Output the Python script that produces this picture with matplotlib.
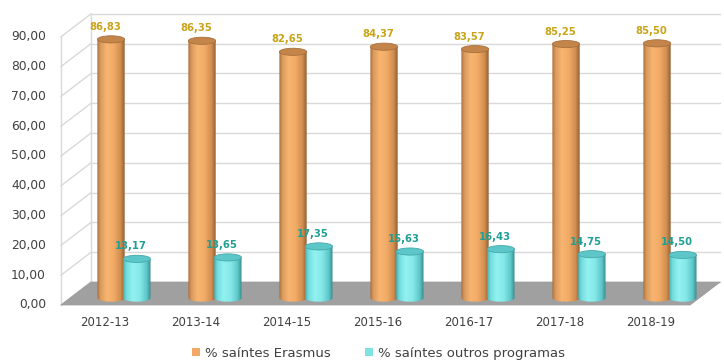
import numpy as np
import matplotlib
matplotlib.use("Agg")
import matplotlib.pyplot as plt
from matplotlib.patches import Ellipse, Polygon, PathPatch, Patch
from matplotlib.path import Path
from matplotlib.colors import LinearSegmentedColormap

plt.rcParams['font.family'] = ['DejaVu Sans']

# Datos
anos = ['2012-13', '2013-14', '2014-15', '2015-16', '2016-17', '2017-18', '2018-19']
erasmus = [86.83, 86.35, 82.65, 84.37, 83.57, 85.25, 85.50]
outros = [13.17, 13.65, 17.35, 15.63, 16.43, 14.75, 14.50]
yticks = [0, 10, 20, 30, 40, 50, 60, 70, 80, 90]

# perspectiva: desprazamento do fondo respecto da fronte
dx, dy = 0.33, 7.7
x_left = -0.484
x_right = 6.43
base = 0.3 * dy  # os cilindros pousan a 30% da profundidade
w = 0.30
cap_h = 2.4

cmap_or = LinearSegmentedColormap.from_list('or', [
    (0.0, '#a86d3c'), (0.12, '#d99a5c'), (0.35, '#f7b571'),
    (0.6, '#f2ab66'), (0.85, '#cf8d50'), (1.0, '#8e5c30')])
cmap_cy = LinearSegmentedColormap.from_list('cy', [
    (0.0, '#4aaeb0'), (0.12, '#72dcdd'), (0.35, '#93f2f2'),
    (0.6, '#86e8e9'), (0.85, '#5ec7c9'), (1.0, '#37898c')])


def fmt(v):
    return f"{v:.2f}".replace('.', ',')


def cilindro(ax, xc, valor, cmap, cor_tapa, cor_borde):
    x0, x1 = xc - w / 2, xc + w / 2
    top = base + valor
    t = np.linspace(np.pi, 2 * np.pi, 30)
    fondo = [(xc + w / 2 * np.cos(a), base + cap_h / 2 * np.sin(a)) for a in t]
    verts = [(x0, top)] + fondo + [(x1, top), (x0, top)]
    clip = PathPatch(Path(verts), transform=ax.transData, facecolor='none', edgecolor='none')
    ax.add_patch(clip)
    grad = np.linspace(0, 1, 200).reshape(1, -1)
    im = ax.imshow(grad, cmap=cmap, extent=[x0, x1, base - cap_h / 2, top],
                   aspect='auto', zorder=3, interpolation='bilinear')
    im.set_clip_path(clip)
    ax.add_patch(Ellipse((xc, top), w, cap_h, facecolor=cor_tapa,
                         edgecolor=cor_borde, lw=0.6, zorder=4))
    return top


fig = plt.figure(figsize=(7.24, 3.62), dpi=100)
ax = fig.add_axes([0, 0, 1, 1])
ax.set_xlim(-1.154, 6.802)
ax.set_ylim(-19.13, 102.35)
ax.axis('off')

grid_c = '#d9d9d9'
# parede do fondo e parede lateral
for t in yticks:
    ax.plot([x_left + dx, x_right + dx], [t + dy, t + dy], color=grid_c, lw=1.0, zorder=1)
    ax.plot([x_left, x_left + dx], [t, t + dy], color=grid_c, lw=1.0, zorder=1)
ax.plot([x_left, x_left], [0, 90], color=grid_c, lw=1.0, zorder=1)
ax.plot([x_left + dx, x_left + dx], [dy, 90 + dy], color=grid_c, lw=1.0, zorder=1)

# chan
ax.add_patch(Polygon([(x_left, 0), (x_left + dx, dy), (x_right + dx, dy), (x_right, 0)],
                     closed=True, facecolor='#a0a0a0', edgecolor='#999999', lw=0.5, zorder=2))

x = np.arange(len(anos))
for i in x:
    top = cilindro(ax, i + 0.066, erasmus[i], cmap_or, '#c4854a', '#a9703c')
    ax.text(i + 0.0, top + 4.2, fmt(erasmus[i]), ha='center', va='center',
            fontsize=7.2, fontweight='bold', color='#c9a41a', zorder=6)
for i in x:
    top = cilindro(ax, i + 0.35, outros[i], cmap_cy, '#5cc6c8', '#45a9ab')
    ax.text(i + 0.28, top + 4.2, fmt(outros[i]), ha='center', va='center',
            fontsize=7.2, fontweight='bold', color='#1f9f93', zorder=6)

# etiquetas dos eixos
for t in yticks:
    ax.text(-0.648, t, fmt(t), ha='right', va='center', fontsize=8.8, color='#404040')
for i, a in enumerate(anos):
    ax.text(i, -6.0, a, ha='center', va='center', fontsize=8.5, color='#404040')

handles = [Patch(facecolor='#f2a966', label='% saíntes Erasmus'),
           Patch(facecolor='#7fe3e4', label='% saíntes outros programas')]
fig.legend(handles=handles, loc='center', bbox_to_anchor=(0.523, 0.024), ncol=2,
           frameon=False, fontsize=9.5, handlelength=0.6, handleheight=0.6,
           handletextpad=0.4, columnspacing=2.6, labelcolor='#404040')

fig.savefig('out.png', dpi=100, facecolor='white')
